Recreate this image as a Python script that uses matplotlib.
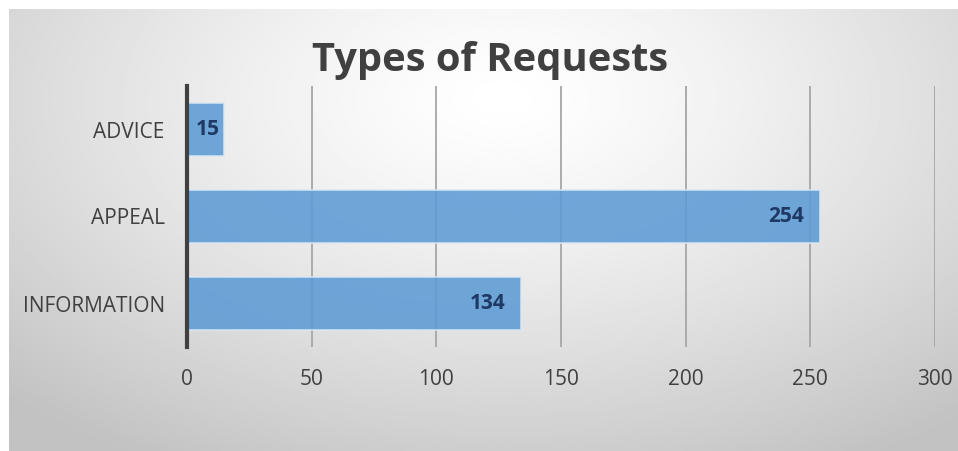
import numpy as np
import matplotlib.pyplot as plt

categories = ["INFORMATION", "APPEAL", "ADVICE"]
counts = [134, 254, 15]
xticks = [0, 50, 100, 150, 200, 250, 300]
title = "Types of Requests"

W, H = 958, 451
fig = plt.figure(figsize=(W / 100, H / 100), dpi=100)
fig.patch.set_facecolor("white")

# gradient backdrop (radial, light centre near the top)
bg = fig.add_axes([9 / W, 0, 1 - 9 / W, 1 - 9 / H])
bg.set_axis_off()
yy, xx = np.mgrid[0:1:300j, 0:1:600j]
r = np.sqrt(((xx - 0.52) / 0.75) ** 2 + ((yy - 0.2) / 0.95) ** 2)
shade = 1.0 - 0.24 * np.clip(r, 0, 1) ** 1.3
bg.imshow(shade, cmap="gray", vmin=0, vmax=1, aspect="auto",
          extent=[0, 1, 1, 0], interpolation="bilinear")
bg.set_xlim(0, 1)
bg.set_ylim(1, 0)

ax = fig.add_axes([187 / W, 1 - 347 / H, (935 - 187) / W, (347 - 86) / H])
ax.patch.set_alpha(0)

ypos = np.arange(len(categories))
bars = ax.barh(ypos, counts, height=0.6, color="#5b9bd5", alpha=0.87,
               edgecolor="#dbe8f5", linewidth=1.2, zorder=3)

for b, v in zip(bars, counts):
    yc = b.get_y() + b.get_height() / 2
    if v > 30:
        ax.text(v - 6.4, yc, str(v), ha="right", va="center", fontsize=15,
                fontweight="bold", color="#1f3864", family="Open Sans", zorder=4)
    else:
        ax.text(v / 2 + 0.7, yc, str(v), ha="center", va="center", fontsize=15,
                fontweight="bold", color="#1f3864", family="Open Sans", zorder=4)

ax.set_xlim(0, 300)
ax.set_ylim(-0.5, 2.5)
ax.set_xticks(xticks)
ax.set_yticks(ypos)
ax.set_yticklabels(categories)
ax.grid(axis="x", color="#a6a6a6", linewidth=1.3, zorder=1)
ax.set_axisbelow(True)

for s in ["top", "right", "bottom"]:
    ax.spines[s].set_visible(False)
ax.spines["left"].set_color("#404040")
ax.spines["left"].set_linewidth(3)
ax.spines["left"].set_zorder(5)

ax.tick_params(axis="both", length=0, labelsize=15, labelcolor="#404040")
ax.tick_params(axis="x", pad=16)
ax.tick_params(axis="y", pad=16)
for lab in ax.get_xticklabels() + ax.get_yticklabels():
    lab.set_family("Open Sans")

fig.text(490 / W, 1 - 60 / H, title, ha="center", va="center",
         fontsize=28.7, fontweight="bold", color="#404040", family="Open Sans")

fig.savefig("out.png", dpi=100)
